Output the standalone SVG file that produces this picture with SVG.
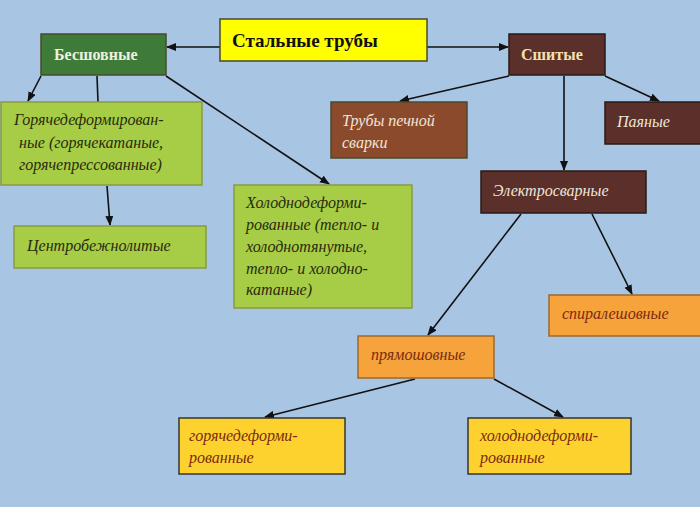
<svg xmlns="http://www.w3.org/2000/svg" width="700" height="507" viewBox="0 0 700 507">
<style>
rect{stroke:#4a4a2a;stroke-width:1.5}
text{font-family:"Liberation Serif",serif;font-size:16px;font-style:italic}
.b{font-weight:bold;font-style:normal}
.lg{fill:#a6cd45;stroke:#8a9a40}
.br{fill:#5b2f2a;stroke:#2a1a14}
.dk{fill:#2a2a10}
.lt{fill:#f0e6d8}
.or{fill:#f5a33a;stroke:#9a6a30}
.ye{fill:#fdd22f;stroke:#333}
.rt{fill:#7a2a10}
.c line{stroke:#111;stroke-width:1.6}
</style>
<defs><marker id="a" markerWidth="10" markerHeight="8" refX="9" refY="4" orient="auto" markerUnits="userSpaceOnUse"><path d="M0,0L10,4L0,8z" fill="#111"/></marker></defs>
<rect x="0" y="0" width="700" height="507" fill="#a8c6e4" style="stroke:none"/>
<g class="c">
<line x1="220" y1="47" x2="167" y2="47" marker-end="url(#a)"/>
<line x1="427" y1="47" x2="508" y2="47" marker-end="url(#a)"/>
<line x1="41" y1="76" x2="28" y2="101" marker-end="url(#a)"/>
<line x1="97" y1="76" x2="98" y2="102"/>
<line x1="166" y1="76" x2="329" y2="184" marker-end="url(#a)"/>
<line x1="107" y1="186" x2="110" y2="225" marker-end="url(#a)"/>
<line x1="509" y1="76" x2="400" y2="101" marker-end="url(#a)"/>
<line x1="564" y1="76" x2="564" y2="170" marker-end="url(#a)"/>
<line x1="605" y1="76" x2="659" y2="101" marker-end="url(#a)"/>
<line x1="521" y1="214" x2="428" y2="335" marker-end="url(#a)"/>
<line x1="592" y1="214" x2="632" y2="294" marker-end="url(#a)"/>
<line x1="415" y1="379" x2="265" y2="417" marker-end="url(#a)"/>
<line x1="494" y1="379" x2="563" y2="417" marker-end="url(#a)"/>
</g>
<g id="steel"><rect x="220" y="19" width="207" height="42" fill="#ffff00" stroke="#333"/><text x="232" y="47" class="b" style="font-size:19px;fill:#111">Стальные трубы</text></g>
<g id="seamless"><rect x="41" y="34" width="125" height="41" fill="#3f7b38" stroke="#333"/><text x="54" y="60" class="b" style="font-size:16px;fill:#eef0e0">Бесшовные</text></g>
<g id="sewn"><rect x="509" y="34" width="96" height="41" class="br"/><text x="521" y="60" class="b" style="font-size:16px;fill:#f5e2b0">Сшитые</text></g>
<g id="hot"><rect x="1" y="102" width="201" height="83" class="lg"/><text class="dk" x="14" y="125">Горячедеформирован-</text><text class="dk" x="19" y="148">ные (горячекатаные,</text><text class="dk" x="19" y="170">горячепрессованные)</text></g>
<g id="furnace"><rect x="331" y="102" width="136" height="56" fill="#8c4a2c" stroke="#2a1a14"/><text class="lt" x="342" y="126">Трубы печной</text><text class="lt" x="342" y="148">сварки</text></g>
<g id="soldered"><rect x="605" y="102" width="96" height="42" class="br"/><text class="lt" x="617" y="127">Паяные</text></g>
<g id="electro"><rect x="481" y="171" width="165" height="42" class="br"/><text class="lt" x="493" y="196">Электросварные</text></g>
<g id="centri"><rect x="14" y="226" width="192" height="42" class="lg"/><text class="dk" x="27" y="251">Центробежнолитые</text></g>
<g id="cold"><rect x="234" y="185" width="178" height="123" class="lg"/><text class="dk" x="246" y="208">Холоднодеформи-</text><text class="dk" x="246" y="230">рованные (тепло- и</text><text class="dk" x="246" y="252">холоднотянутые,</text><text class="dk" x="246" y="274">тепло- и холодно-</text><text class="dk" x="246" y="295">катаные)</text></g>
<g id="spiral"><rect x="549" y="295" width="152" height="41" class="or"/><text class="rt" x="562" y="319">спиралешовные</text></g>
<g id="straight"><rect x="358" y="336" width="136" height="42" class="or"/><text class="rt" x="371" y="360">прямошовные</text></g>
<g id="hot2"><rect x="179" y="418" width="166" height="56" class="ye"/><text class="rt" x="189" y="441">горячедеформи-</text><text class="rt" x="189" y="463">рованные</text></g>
<g id="cold2"><rect x="468" y="418" width="163" height="56" class="ye"/><text class="rt" x="480" y="441">холоднодеформи-</text><text class="rt" x="480" y="463">рованные</text></g>
</svg>
